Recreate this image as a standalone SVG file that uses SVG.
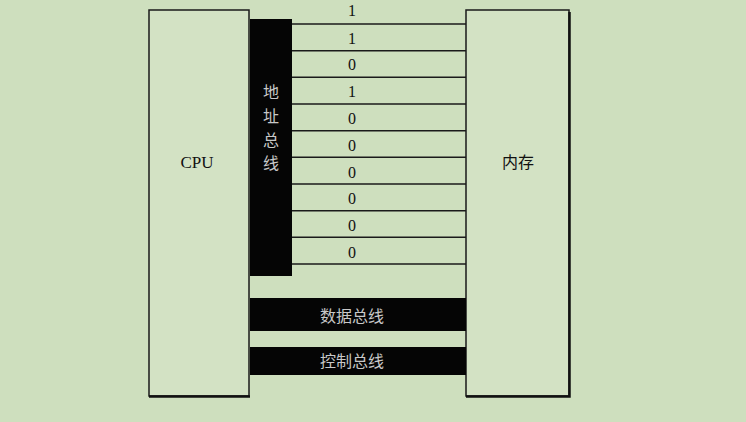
<svg xmlns="http://www.w3.org/2000/svg" width="746" height="422" viewBox="0 0 746 422">
<style>
.box{fill:#d3e2c4;stroke:#1a1a1a;stroke-width:1.5}
.shadow{fill:none;stroke:#111;stroke-width:2.5}
.bar{fill:#050505}
.wire{stroke:#1a1a1a;stroke-width:1.6}
.bit{font-family:"Liberation Serif",serif;font-size:16px;fill:#111;text-anchor:middle}
.lbl{font-family:"Liberation Serif",serif;font-size:17px;fill:#111;text-anchor:middle}
.cjk{font-family:"Liberation Serif","Noto Sans CJK SC",serif;font-size:16px;fill:#111;text-anchor:middle}
.wt{font-family:"Noto Sans CJK SC",serif;font-size:16px;fill:#c8c8c8;text-anchor:middle}
</style>
<rect width="746" height="422" fill="#cedfbe"/>
<g id="cpu">
<rect class="box" x="149" y="10" width="100" height="386"/>
<line class="shadow" x1="149" y1="396.5" x2="250" y2="396.5"/>
<text class="lbl" x="197" y="168">CPU</text>
</g>
<g id="memory">
<rect class="box" x="466" y="10" width="103" height="386"/>
<path class="shadow" d="M569.5 12 V396.5 H466"/>
<text class="cjk" x="518" y="168">内存</text>
</g>
<g id="address-bus">
<rect class="bar" x="250" y="19" width="42" height="257"/>
<text class="wt" x="271" y="98">地</text>
<text class="wt" x="271" y="122">址</text>
<text class="wt" x="271" y="146">总</text>
<text class="wt" x="271" y="169">线</text>
</g>
<g id="data-bus">
<rect class="bar" x="250" y="298" width="216" height="33"/>
<text class="wt" x="352" y="322">数据总线</text>
</g>
<g id="control-bus">
<rect class="bar" x="250" y="347" width="216" height="28"/>
<text class="wt" x="352" y="367">控制总线</text>
</g>
<g id="connectors">
<line class="wire" x1="292" y1="24" x2="466" y2="24"/>
<line class="wire" x1="292" y1="50.7" x2="466" y2="50.7"/>
<line class="wire" x1="292" y1="77.3" x2="466" y2="77.3"/>
<line class="wire" x1="292" y1="104" x2="466" y2="104"/>
<line class="wire" x1="292" y1="130.7" x2="466" y2="130.7"/>
<line class="wire" x1="292" y1="157.3" x2="466" y2="157.3"/>
<line class="wire" x1="292" y1="184" x2="466" y2="184"/>
<line class="wire" x1="292" y1="210.7" x2="466" y2="210.7"/>
<line class="wire" x1="292" y1="237.3" x2="466" y2="237.3"/>
<line class="wire" x1="292" y1="264" x2="466" y2="264"/>
</g>
<g id="bits">
<text class="bit" x="352" y="16">1</text>
<text class="bit" x="352" y="44">1</text>
<text class="bit" x="352" y="70">0</text>
<text class="bit" x="352" y="97">1</text>
<text class="bit" x="352" y="124">0</text>
<text class="bit" x="352" y="151">0</text>
<text class="bit" x="352" y="178">0</text>
<text class="bit" x="352" y="204">0</text>
<text class="bit" x="352" y="231">0</text>
<text class="bit" x="352" y="258">0</text>
</g>
</svg>
